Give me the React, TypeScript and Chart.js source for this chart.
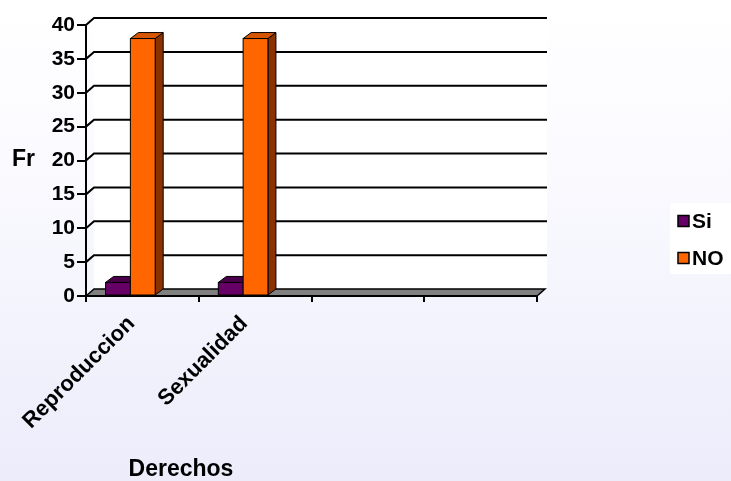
import React, { useEffect, useRef } from 'react';
import { Chart, registerables } from 'chart.js';

Chart.register(...registerables);

const categories = ['Reproduccion', 'Sexualidad', '', ''];
const siValues: (number | null)[] = [2, 2, null, null];
const noValues: (number | null)[] = [38, 38, null, null];
const seriesNames = ['Si', 'NO'];
const yMin = 0;
const yMax = 40;
const yStep = 5;
const xTitle = 'Derechos';
const yTitle = 'Fr';

const FONT = "'Liberation Sans', Arial, Helvetica, sans-serif";
const frontColors = ['#660066', '#FF6600'];
const topColors = ['#4A004A', '#D65500'];
const sideColors = ['#3A003A', '#8A3300'];

// 3D offsets (style)
const GDX = 8, GDY = -7;   // back wall offset
const BDX = 8, BDY = -6;   // bar depth
const BAR_SHIFT = -12;     // bar group offset within category

const threeD = {
  id: 'threeD',
  beforeDraw(chart: any) {
    const { ctx, width, height, scales } = chart;
    const x = scales.x, y = scales.y;
    ctx.save();
    const g = ctx.createLinearGradient(0, 0, 0, height);
    g.addColorStop(0, '#FFFFFF');
    g.addColorStop(0.3, '#FBFBFF');
    g.addColorStop(1, '#ECECFB');
    ctx.fillStyle = g;
    ctx.fillRect(0, 0, width, height);
    const top = y.getPixelForValue(yMax) + GDY;
    const bot = y.getPixelForValue(yMin) + GDY;
    ctx.fillStyle = '#FFFFFF';
    ctx.fillRect(x.left + GDX, top, x.right - x.left + 2, bot - top);
    ctx.restore();
  },
  beforeDatasetsDraw(chart: any) {
    const { ctx, scales } = chart;
    const x = scales.x, y = scales.y;
    ctx.save();
    ctx.strokeStyle = '#000';
    ctx.lineWidth = 2;
    y.ticks.forEach((t: any) => {
      if (t.value === yMin) return;
      const py = y.getPixelForValue(t.value);
      ctx.beginPath();
      ctx.moveTo(x.left, py);
      ctx.lineTo(x.left + GDX, py + GDY);
      ctx.lineTo(x.right + GDX + 2, py + GDY);
      ctx.stroke();
    });
    // floor
    const p0 = y.getPixelForValue(yMin);
    ctx.beginPath();
    ctx.moveTo(x.left, p0);
    ctx.lineTo(x.left + GDX, p0 + GDY);
    ctx.lineTo(x.right + GDX, p0 + GDY);
    ctx.lineTo(x.right, p0);
    ctx.closePath();
    ctx.fillStyle = '#808080';
    ctx.fill();
    ctx.lineWidth = 1.5;
    ctx.stroke();
    ctx.lineWidth = 2;
    ctx.beginPath();
    ctx.moveTo(x.left, p0);
    ctx.lineTo(x.right, p0);
    ctx.stroke();
    ctx.restore();
  },
  beforeDatasetDraw() {
    return false;
  },
  afterDatasetsDraw(chart: any) {
    const { ctx } = chart;
    ctx.save();
    ctx.strokeStyle = '#000';
    ctx.lineWidth = 1;
    chart.data.datasets.forEach((ds: any, i: number) => {
      const meta = chart.getDatasetMeta(i);
      meta.data.forEach((bar: any, j: number) => {
        if (ds.data[j] == null) return;
        const l = bar.x - bar.width / 2 + BAR_SHIFT;
        const r = l + bar.width;
        const t = bar.y;
        const b = bar.base;
        // side
        ctx.beginPath();
        ctx.moveTo(r, b);
        ctx.lineTo(r + BDX, b + BDY);
        ctx.lineTo(r + BDX, t + BDY);
        ctx.lineTo(r, t);
        ctx.closePath();
        ctx.fillStyle = sideColors[i];
        ctx.fill();
        ctx.stroke();
        // top
        ctx.beginPath();
        ctx.moveTo(l, t);
        ctx.lineTo(l + BDX, t + BDY);
        ctx.lineTo(r + BDX, t + BDY);
        ctx.lineTo(r, t);
        ctx.closePath();
        ctx.fillStyle = topColors[i];
        ctx.fill();
        ctx.stroke();
        // front
        ctx.fillStyle = frontColors[i];
        ctx.fillRect(l, t, r - l, b - t);
        ctx.strokeRect(l, t, r - l, b - t);
      });
    });
    ctx.restore();
  },
  afterDraw(chart: any) {
    const { ctx } = chart;
    ctx.save();
    ctx.fillStyle = '#000';
    ctx.textBaseline = 'middle';
    ctx.font = `bold 23px ${FONT}`;
    ctx.textAlign = 'left';
    ctx.fillText(yTitle, 12, 160);
    ctx.textAlign = 'center';
    ctx.fillText(xTitle, 181, 470);
    // legend
    ctx.fillStyle = '#FFFFFF';
    ctx.fillRect(670, 203, 61, 71);
    ctx.font = `bold 21px ${FONT}`;
    ctx.textAlign = 'left';
    chart.data.datasets.forEach((ds: any, i: number) => {
      const cy = 221 + i * 37;
      ctx.fillStyle = ds.backgroundColor;
      ctx.fillRect(678, cy - 5.5, 11, 11);
      ctx.strokeStyle = '#000';
      ctx.lineWidth = 1.5;
      ctx.strokeRect(678, cy - 5.5, 11, 11);
      ctx.fillStyle = '#000';
      ctx.fillText(ds.label, 692, cy + 1);
    });
    ctx.restore();
  },
};

export default function App() {
  const ref = useRef<HTMLCanvasElement>(null);
  useEffect(() => {
    document.body.style.margin = '0';
    const chart = new Chart(ref.current as HTMLCanvasElement, {
      type: 'bar',
      data: {
        labels: categories,
        datasets: [
          { label: seriesNames[0], data: siValues, backgroundColor: frontColors[0] },
          { label: seriesNames[1], data: noValues, backgroundColor: frontColors[1] },
        ],
      },
      options: {
        responsive: false,
        animation: false,
        layout: { padding: { top: 25, right: 194, left: 0, bottom: 0 } },
        datasets: { bar: { categoryPercentage: 0.44, barPercentage: 1 } },
        plugins: { legend: { display: false }, tooltip: { enabled: false } },
        scales: {
          x: {
            ticks: {
              color: '#000',
              font: { family: FONT, size: 22, weight: 'bold' },
              minRotation: 45,
              maxRotation: 45,
              padding: 9,
              labelOffset: -11,
              autoSkip: false,
            },
            grid: { offset: true, drawOnChartArea: false, drawTicks: true, tickLength: 6, color: '#000', lineWidth: 2 },
            border: { display: false },
            afterFit: (s: any) => { s.height = 481 - 296; },
          },
          y: {
            min: yMin,
            max: yMax,
            ticks: {
              stepSize: yStep,
              color: '#000',
              font: { family: FONT, size: 21, weight: 'bold' },
              padding: 2,
            },
            grid: { drawOnChartArea: false, drawTicks: true, tickLength: 9, color: '#000', lineWidth: 2 },
            border: { display: true, color: '#000', width: 2 },
            afterFit: (s: any) => { s.width = 86; },
          },
        },
      } as any,
      plugins: [threeD],
    });
    return () => chart.destroy();
  }, []);
  return (
    <div style={{ position: 'absolute', left: 0, top: 0, width: 731, height: 481 }}>
      <canvas ref={ref} width={731} height={481} />
    </div>
  );
}
